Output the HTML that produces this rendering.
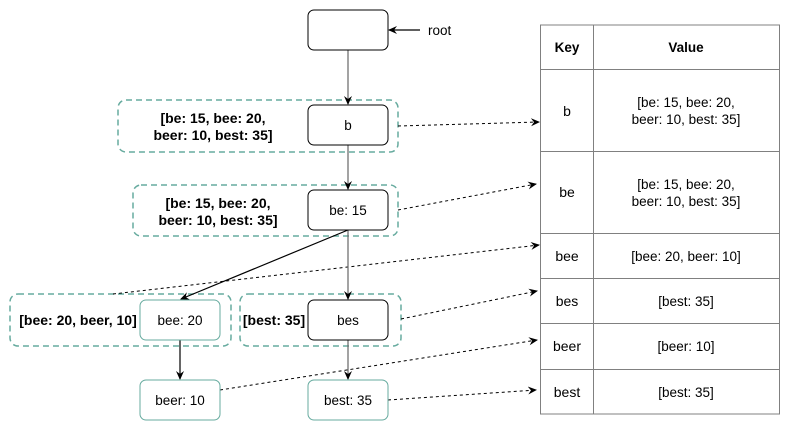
<!DOCTYPE html>
<html><head><meta charset="utf-8"><style>
body{margin:0;background:#fff}
svg{display:block;font-family:"Liberation Sans",Arial,sans-serif}
</style></head><body>
<svg width="791" height="431" viewBox="0 0 791 431">
<defs>
<marker id="ah" markerWidth="10" markerHeight="10" refX="8" refY="4" orient="auto" markerUnits="userSpaceOnUse"><path d="M0,0 L9,4 L0,8 L3,4 Z" fill="#000"/></marker>
</defs>
<g fill="none" stroke="#67AB9F" stroke-width="1.5" stroke-dasharray="6,4">
<rect x="118" y="100" width="280" height="52" rx="8"/>
<rect x="133" y="185" width="265" height="51" rx="8"/>
<rect x="10" y="294" width="221" height="52" rx="8"/>
<rect x="240" y="294" width="161" height="52" rx="8"/>
</g>
<g stroke="#000" stroke-width="1" stroke-dasharray="3,3" fill="none" marker-end="url(#ah)">
<line x1="398" y1="126" x2="539" y2="122"/>
<line x1="398" y1="210" x2="536" y2="184"/>
<line x1="113" y1="294" x2="539" y2="245"/>
<line x1="401" y1="319" x2="537" y2="291"/>
<line x1="220" y1="390" x2="537" y2="340"/>
<line x1="388" y1="400" x2="536" y2="390"/>
</g>
<g stroke-width="1.2" fill="none" marker-end="url(#ah)">
<line stroke="#666" x1="348" y1="50" x2="348" y2="104"/>
<line stroke="#666" x1="348" y1="145" x2="348" y2="189"/>
<line stroke="#000" x1="348" y1="230" x2="181" y2="299"/>
<line stroke="#666" x1="348" y1="230" x2="348" y2="299"/>
<line stroke="#000" x1="180" y1="340" x2="180" y2="379"/>
<line stroke="#666" x1="348" y1="340" x2="348" y2="379"/>
<line stroke="#000" x1="420" y1="30" x2="389" y2="30"/>
</g>
<g fill="#fff" stroke-width="1">
<rect x="308" y="10" width="80" height="40" rx="6" stroke="#000"/>
<rect x="308" y="105" width="80" height="40" rx="6" stroke="#000"/>
<rect x="308" y="190" width="80" height="40" rx="6" stroke="#000"/>
<rect x="140" y="300" width="80" height="40" rx="6" stroke="#67AB9F"/>
<rect x="308" y="300" width="80" height="40" rx="6" stroke="#000"/>
<rect x="140" y="380" width="80" height="40" rx="6" stroke="#67AB9F"/>
<rect x="308" y="380" width="80" height="40" rx="6" stroke="#67AB9F"/>
</g>
<g font-size="13.5" text-anchor="middle" fill="#000">
<text x="428" y="35" text-anchor="start">root</text>
<text x="348" y="130">b</text>
<text x="348" y="215">be: 15</text>
<text x="180" y="325">bee: 20</text>
<text x="348" y="325">bes</text>
<text x="180" y="405">beer: 10</text>
<text x="348" y="405">best: 35</text>
</g>
<g font-size="14" font-weight="bold" text-anchor="middle" fill="#000">
<text x="213" y="123">[be: 15, bee: 20,</text>
<text x="213" y="140">beer: 10, best: 35]</text>
<text x="218" y="208">[be: 15, bee: 20,</text>
<text x="218" y="225">beer: 10, best: 35]</text>
<text x="78" y="325">[bee: 20, beer, 10]</text>
<text x="274" y="325">[best: 35]</text>
</g>
<g stroke="#808080" stroke-width="1" fill="none">
<rect x="540.5" y="25" width="239" height="389"/>
<line x1="593.5" y1="25" x2="593.5" y2="414"/>
<line x1="540" y1="69.5" x2="780" y2="69.5"/>
<line x1="540" y1="151.5" x2="780" y2="151.5"/>
<line x1="540" y1="233.5" x2="780" y2="233.5"/>
<line x1="540" y1="278.5" x2="780" y2="278.5"/>
<line x1="540" y1="323.5" x2="780" y2="323.5"/>
<line x1="540" y1="369.5" x2="780" y2="369.5"/>
</g>
<g font-size="14" text-anchor="middle" fill="#000">
<text x="567" y="52" font-weight="bold" font-size="13.5">Key</text>
<text x="686" y="52" font-weight="bold" font-size="13.5">Value</text>
<text x="567" y="116">b</text>
<text font-size="13.5" x="686" y="107">[be: 15, bee: 20,</text>
<text font-size="13.5" x="686" y="124">beer: 10, best: 35]</text>
<text x="567" y="197">be</text>
<text font-size="13.5" x="686" y="189">[be: 15, bee: 20,</text>
<text font-size="13.5" x="686" y="206">beer: 10, best: 35]</text>
<text x="567" y="261">bee</text>
<text font-size="13.5" x="686" y="261">[bee: 20, beer: 10]</text>
<text x="567" y="306">bes</text>
<text font-size="13.5" x="686" y="306">[best: 35]</text>
<text x="567" y="351">beer</text>
<text font-size="13.5" x="686" y="351">[beer: 10]</text>
<text x="567" y="397">best</text>
<text font-size="13.5" x="686" y="397">[best: 35]</text>
</g>
</svg>
</body></html>
